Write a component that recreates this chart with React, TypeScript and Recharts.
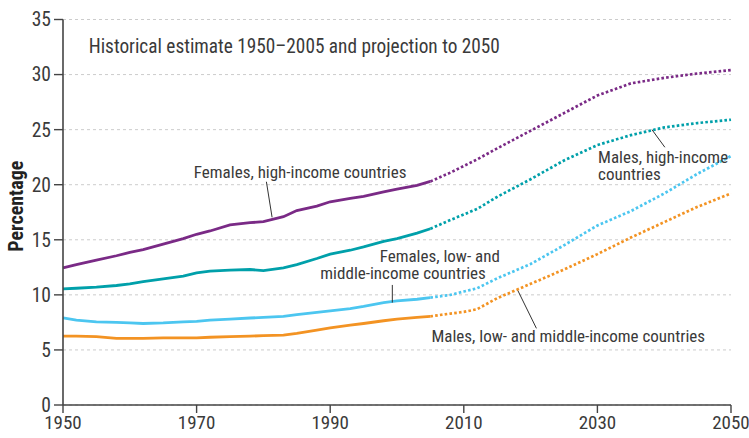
import React from 'react';
import {
  LineChart, Line, XAxis, YAxis, CartesianGrid, ReferenceLine, ReferenceDot,
} from 'recharts';

// ---------- data ----------
const years = [1950, 1952, 1955, 1958, 1960, 1962, 1965, 1968, 1970, 1972, 1975, 1978, 1980, 1983, 1985, 1988, 1990, 1993, 1995, 1998, 2000, 2003, 2005, 2008, 2010, 2012, 2015, 2020, 2025, 2030, 2035, 2040, 2045, 2050];
const splitYear = 2005;

const femHighHist = [12.45, 12.75, 13.15, 13.55, 13.85, 14.1, 14.6, 15.1, 15.5, 15.8, 16.35, 16.55, 16.65, 17.1, 17.65, 18.05, 18.45, 18.75, 18.95, 19.35, 19.6, 19.95, 20.3];
const femHighProj = [20.3, 21.1, 21.7, 22.3, 23.3, 24.9, 26.5, 28.1, 29.2, 29.7, 30.1, 30.4];

const maleHighHist = [10.55, 10.6, 10.7, 10.85, 11.0, 11.2, 11.45, 11.7, 12.0, 12.15, 12.25, 12.3, 12.2, 12.45, 12.75, 13.3, 13.7, 14.05, 14.35, 14.85, 15.1, 15.6, 16.0];
const maleHighProj = [16.0, 16.8, 17.3, 17.8, 18.9, 20.5, 22.2, 23.6, 24.5, 25.2, 25.6, 25.9];

const femLowHist = [7.9, 7.7, 7.55, 7.5, 7.45, 7.4, 7.45, 7.55, 7.6, 7.7, 7.8, 7.9, 7.95, 8.05, 8.2, 8.4, 8.55, 8.75, 8.95, 9.3, 9.45, 9.6, 9.75];
const femLowProj = [9.75, 10.0, 10.3, 10.6, 11.5, 12.8, 14.5, 16.3, 17.6, 19.2, 21.0, 22.6];

const maleLowHist = [6.25, 6.25, 6.2, 6.05, 6.05, 6.05, 6.1, 6.1, 6.1, 6.15, 6.2, 6.25, 6.3, 6.35, 6.5, 6.8, 7.0, 7.25, 7.4, 7.65, 7.8, 7.95, 8.05];
const maleLowProj = [8.05, 8.3, 8.45, 8.7, 9.7, 11.0, 12.3, 13.7, 15.2, 16.6, 18.0, 19.2];

const xTicks = [1950, 1970, 1990, 2010, 2030, 2050];
const yTicks = [0, 5, 10, 15, 20, 25, 30, 35];

const series = [
  { key: 'femHigh', hist: femHighHist, proj: femHighProj, color: '#7a2a86' },
  { key: 'maleHigh', hist: maleHighHist, proj: maleHighProj, color: '#00a0aa' },
  { key: 'femLow', hist: femLowHist, proj: femLowProj, color: '#4cc6f0' },
  { key: 'maleLow', hist: maleLowHist, proj: maleLowProj, color: '#f39323' },
];

const titleText = 'Historical estimate 1950\u20132005 and projection to 2050';

// annotations in data coordinates
const labels = [
  { x: 1953.85, y: 31.93, anchor: 'start', size: 19.3, lines: [titleText] },
  { x: 1985.5, y: 20.58, anchor: 'middle', size: 17, lines: ['Females, high-income countries'] },
  { x: 2030.1, y: 21.95, anchor: 'start', size: 17, lines: ['Males, high-income', 'countries'] },
  { x: 2015.4, y: 13.01, anchor: 'end', size: 17, lines: ['Females, low- and'] },
  { x: 2013.3, y: 11.41, anchor: 'end', size: 17, lines: ['middle-income countries'] },
  { x: 2005.15, y: 5.75, anchor: 'start', size: 17, lines: ['Males, low- and middle-income countries'] },
];

const leaders = [
  [{ x: 1980.45, y: 20.27 }, { x: 1981.3, y: 17.04 }],
  [{ x: 2038.2, y: 24.97 }, { x: 2040.1, y: 23.4 }],
  [{ x: 1999.3, y: 10.9 }, { x: 1999.3, y: 9.3 }],
  [{ x: 2020.87, y: 6.96 }, { x: 2018.1, y: 10.38 }],
];

const FONT = "'Roboto Condensed', sans-serif";
const TEXT_COLOR = '#3a3a3a';

const data = years.map((yr, i) => {
  const row: Record<string, number | null> = { year: yr };
  const pi = i - years.indexOf(splitYear);
  series.forEach((s) => {
    row[s.key + 'Hist'] = yr <= splitYear ? s.hist[i] : null;
    row[s.key + 'Proj'] = yr >= splitYear ? s.proj[pi] : null;
  });
  return row;
});

const makeLabelShape = (lines: string[], anchor: string, size: number) => (props: any) => {
  const { cx, cy } = props;
  return (
    <text x={cx} y={cy} textAnchor={anchor as any} fontFamily={FONT} fontSize={size} fill={TEXT_COLOR}>
      {lines.map((ln, i) => (
        <tspan key={i} x={cx} dy={i === 0 ? 0 : 16.6}>{ln}</tspan>
      ))}
    </text>
  );
};

const YLabel = (props: any) => {
  const { viewBox } = props;
  const x = viewBox.x + 23;
  const y = viewBox.y + viewBox.height / 2 - 6;
  return (
    <text x={x} y={y} transform={`rotate(-90, ${x}, ${y})`} textAnchor="middle"
      fontFamily={FONT} fontWeight="bold" fontSize={20} fill="#222">Percentage</text>
  );
};

const XTick = (props: any) => {
  const { x, y, payload } = props;
  return (
    <text x={x} y={y} dy="0.71em" textAnchor="middle" fontFamily={FONT} fontSize={19} fill={TEXT_COLOR}>
      {payload.value}
    </text>
  );
};

export default function App() {
  return (
    <div style={{ position: 'absolute', left: 0, top: 0, width: 749, height: 438 }}>
      <LineChart width={749} height={438} data={data}
        margin={{ top: 19.5, right: 18, bottom: 3, left: 0 }}
        style={{ fontFamily: FONT, overflow: 'visible' }}>
        <CartesianGrid horizontal vertical={false} stroke="#cccccc" strokeDasharray="3 3" strokeWidth={1} />
        <XAxis dataKey="year" type="number" domain={[1950, 2050]} ticks={xTicks}
          height={30} tickSize={8} tickMargin={3} interval={0}
          axisLine={{ stroke: '#444', strokeWidth: 1.6 }} tickLine={{ stroke: '#444', strokeWidth: 1.4 }}
          tick={<XTick />} />
        <YAxis type="number" domain={[0, 35]} ticks={yTicks} width={63} interval={0}
          tickSize={9} tickMargin={3}
          axisLine={{ stroke: '#444', strokeWidth: 1.6 }} tickLine={{ stroke: '#444', strokeWidth: 1.4 }}
          tick={{ fill: TEXT_COLOR, fontSize: 19.5, fontFamily: FONT }}
          label={<YLabel />} />
        {series.map((s) => (
          <Line key={s.key + 'Hist'} dataKey={s.key + 'Hist'} type="linear" stroke={s.color}
            strokeWidth={2.8} dot={false} activeDot={false} isAnimationActive={false} connectNulls={false} />
        ))}
        {series.map((s) => (
          <Line key={s.key + 'Proj'} dataKey={s.key + 'Proj'} type="linear" stroke={s.color}
            strokeWidth={2.7} strokeDasharray="2.6 2.2" dot={false} activeDot={false}
            isAnimationActive={false} connectNulls={false} />
        ))}
        {leaders.map((seg, i) => (
          <ReferenceLine key={'l' + i} segment={seg} stroke="#333" strokeWidth={1} ifOverflow="visible" />
        ))}
        {labels.map((lb, i) => (
          <ReferenceDot key={'t' + i} x={lb.x} y={lb.y} r={0} ifOverflow="visible"
            shape={makeLabelShape(lb.lines, lb.anchor, lb.size)} />
        ))}
      </LineChart>
    </div>
  );
}
